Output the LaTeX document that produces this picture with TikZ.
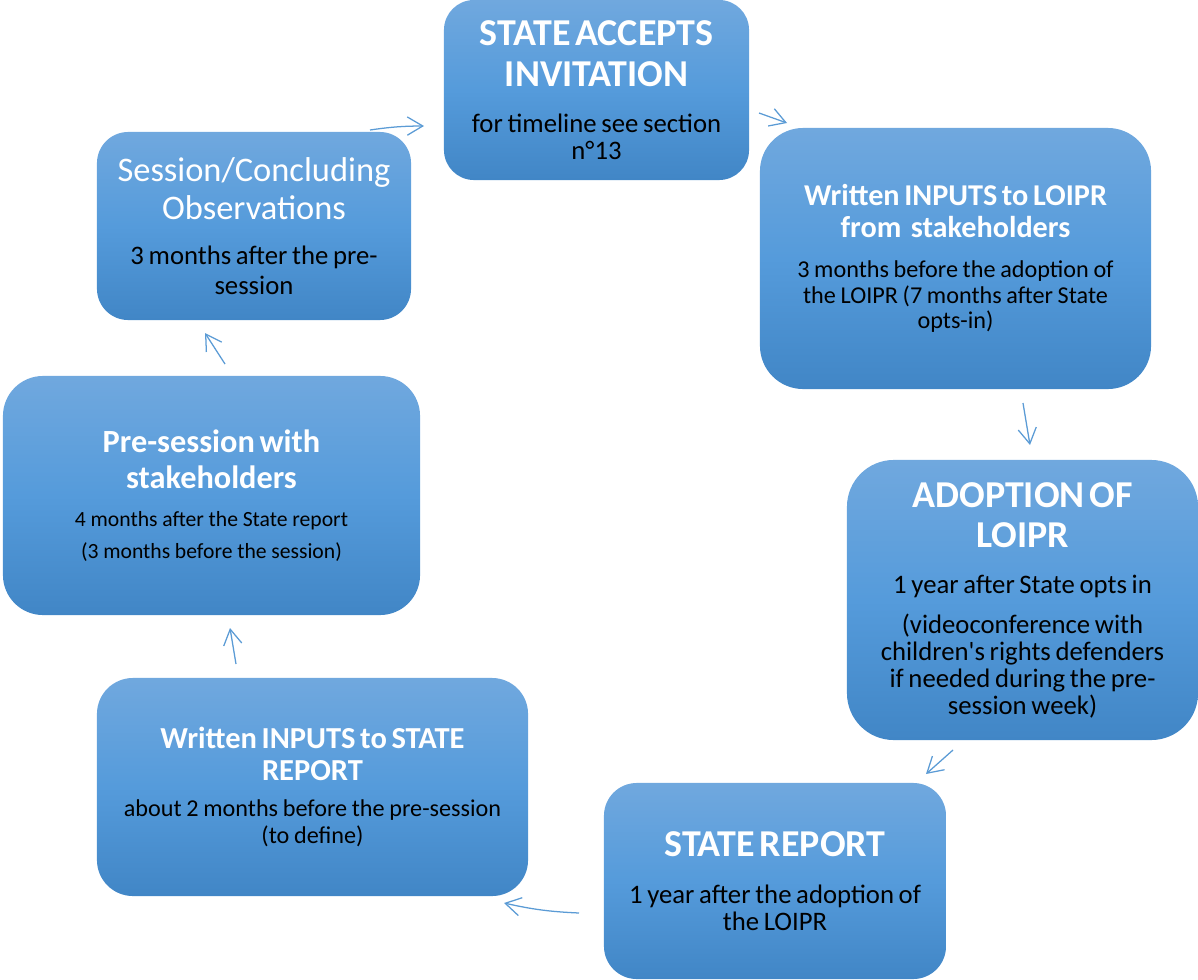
\documentclass[tikz,border=0pt]{standalone}
\usepackage{fontspec}
\setmainfont{Carlito}
\usetikzlibrary{arrows.meta, positioning}

\definecolor{boxtop}{HTML}{70A8DE}
\definecolor{boxmid}{HTML}{559BDB}
\definecolor{boxbot}{HTML}{4186C6}
\definecolor{arrowblue}{HTML}{5B9BD5}

\newcommand{\hd}[2]{\fontsize{#1}{#2}\selectfont\color{white}}
\newcommand{\sub}[2]{\fontsize{#1}{#2}\selectfont\color{black}}

\begin{document}
\begin{tikzpicture}[
    x=0.025cm, y=-0.025cm,
    stage/.style={
        rectangle,
        top color=boxtop,
        bottom color=boxbot,
        middle color=boxmid,
        draw=none,
        align=center,
        inner xsep=0.2cm,
        inner ysep=0pt
    },
    cycle arrow/.style={
        draw=arrowblue,
        line width=0.9pt,
        -{Straight Barb[length=11pt, width=13pt]}
    }
]
    \useasboundingbox (0,0) rectangle (1198,980);

    % --- stages of the cycle ---
    \node[stage, minimum width=7.625cm, minimum height=4.5cm, text width=7.225cm,
          rounded corners=0.75cm] (accept) at (596.5,90)
        {{\hd{27}{29.8}\bfseries STATE ACCEPTS\\INVITATION\par}\vspace{13.5pt}
         {\sub{19}{19.1}for timeline see section\\n°13\par}};

    \node[stage, minimum width=9.775cm, minimum height=6.525cm, text width=9.375cm,
          rounded corners=1.08cm] (inputs) at (955.5,258.5)
        {{\hd{21.5}{22.7}\bfseries Written INPUTS to LOIPR\\from\ \ stakeholders\par}\vspace{10pt}
         {\sub{17.2}{18.4}3 months before the adoption of\\the LOIPR (7 months after State\\opts-in)\par}};

    \node[stage, minimum width=8.775cm, minimum height=7cm, text width=8.375cm,
          rounded corners=1.17cm] (adoption) at (1022.5,600)
        {{\hd{27}{29}\bfseries ADOPTION OF\\LOIPR\par}\vspace{13.5pt}
         {\sub{19}{19.1}1 year after State opts in\par}\vspace{9.3pt}
         {\sub{19}{19.1}(videoconference with\\children\textquotesingle s rights defenders\\if needed during the pre-\\session week)\par}};

    \node[stage, minimum width=8.55cm, minimum height=4.9cm, text width=8.15cm,
          rounded corners=0.82cm] (report) at (775,881)
        {{\hd{27}{29}\bfseries STATE REPORT\par}\vspace{14.2pt}
         {\sub{19}{19.1}1 year after the adoption of\\the LOIPR\par}};

    \node[stage, minimum width=10.775cm, minimum height=5.45cm, text width=10.375cm,
          rounded corners=0.9cm] (reportinputs) at (312.5,787)
        {{\hd{21.7}{22.7}\bfseries Written INPUTS to STATE\\REPORT\par}\vspace{7.1pt}
         {\sub{17.2}{19.1}about 2 months before the pre-session\\(to define)\par}};

    \node[stage, minimum width=10.425cm, minimum height=5.975cm, text width=10.025cm,
          rounded corners=1cm] (presession) at (211.5,495.5)
        {{\hd{23}{25.5}\bfseries Pre-session with\\stakeholders\par}\vspace{10pt}
         {\sub{15.4}{17}4 months after the State report\par}\vspace{5.7pt}
         {\sub{15.4}{17}(3 months before the session)\par}};

    \node[stage, minimum width=7.85cm, minimum height=4.7cm, text width=7.45cm,
          rounded corners=0.78cm] (session) at (254,226)
        {{\hd{24.5}{27}Session/Concluding\\Observations\par}\vspace{10.6pt}
         {\sub{19}{21.3}3 months after the pre-\\session\par}};

    % --- arrows between the stages ---
    \coordinate (s71) at (370,130);  \coordinate (e71) at (424,126);
    \coordinate (s12) at (759,113);  \coordinate (e12) at (787,123);
    \coordinate (s23) at (1023,403); \coordinate (e23) at (1030,445);
    \coordinate (s34) at (953,750);  \coordinate (e34) at (926,774);
    \coordinate (s45) at (579,913);  \coordinate (e45) at (504,903);
    \coordinate (s56) at (236,664);  \coordinate (e56) at (230,628);
    \coordinate (s67) at (225,364);  \coordinate (e67) at (205,333);

    \draw[cycle arrow] (s71) to[bend left=4] (e71);
    \draw[cycle arrow] (s12) -- (e12);
    \draw[cycle arrow] (s23) -- (e23);
    \draw[cycle arrow] (s34) -- (e34);
    \draw[cycle arrow] (s45) to[bend left=5] (e45);
    \draw[cycle arrow] (s56) -- (e56);
    \draw[cycle arrow] (s67) -- (e67);

\end{tikzpicture}
\end{document}
